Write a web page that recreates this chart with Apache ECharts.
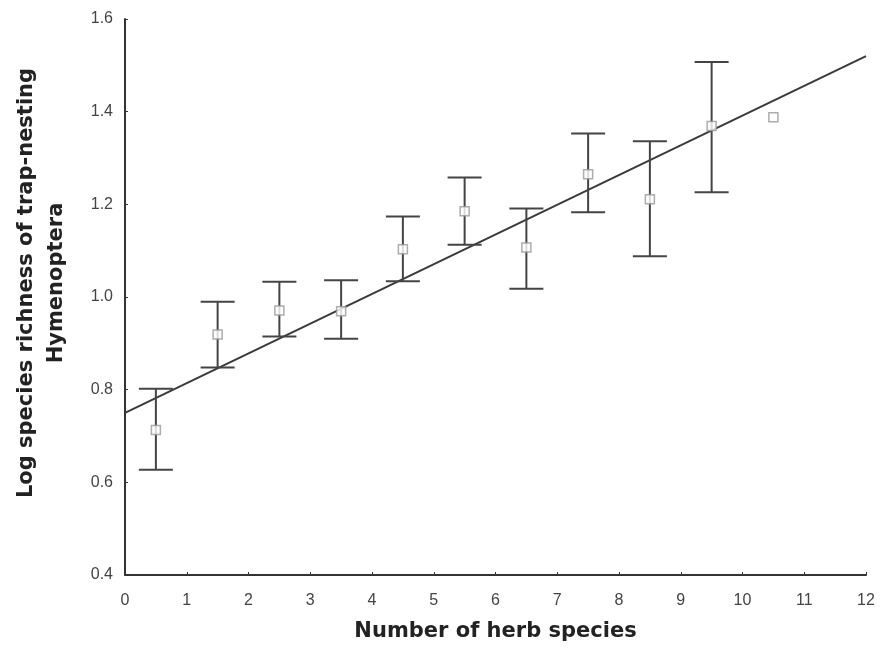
<!DOCTYPE html>
<html>
<head>
<meta charset="utf-8">
<script src="https://cdn.jsdelivr.net/npm/echarts@6/dist/echarts.min.js"></script>
<style>
html,body{margin:0;padding:0;background:#fff;}
#chart1{width:882px;height:660px;}
</style>
</head>
<body>
<div id="chart1"></div>
<script>
// herb species classes (x) and mean log richness with error bars
var herbX=[0.5,1.5,2.5,3.5,4.5,5.5,6.5,7.5,8.5,9.5,10.5];
var meanY=[0.713,0.919,0.971,0.969,1.103,1.185,1.107,1.265,1.211,1.369,1.388];
var upperY=[0.802,0.990,1.033,1.036,1.174,1.258,1.191,1.353,1.336,1.507,null];
var lowerY=[0.627,0.848,0.915,0.910,1.034,1.113,1.018,1.183,1.088,1.226,null];
// fitted regression line, ends
var fitX=[0,12];
var fitY=[0.75,1.52];
var xTicks=[0,1,2,3,4,5,6,7,8,9,10,11,12];
var yTicks=[0.4,0.6,0.8,1.0,1.2,1.4,1.6];

var points=herbX.map(function (x,i) {return [x,meanY[i]]});
var bars=herbX.map(function (x,i) {return [x,lowerY[i],upperY[i]]});
var fit=fitX.map(function (x,i) {return [x,fitY[i]]});

var chart=echarts.init(document.getElementById("chart1"));
var option={
    animation:false,
    backgroundColor:"#fff",
    grid:{left:125,right:16,top:19,bottom:85,containLabel:false,outerBoundsMode:"none"},
    xAxis:{
        type:"value",
        min:xTicks[0],
        max:xTicks[xTicks.length-1],
        interval:1,
        name:"Number of herb species",
        nameLocation:"middle",
        nameGap:46,
        nameTextStyle:{fontFamily:"DejaVu Sans",fontSize:21,fontWeight:"bold",color:"#222"},
        axisLine:{lineStyle:{color:"#333",width:2}},
        axisTick:{inside:true,length:3,lineStyle:{color:"#333"}},
        axisLabel:{fontFamily:"Liberation Sans",fontSize:16,color:"#444",margin:18},
        splitLine:{show:false}
    },
    yAxis:{
        type:"value",
        min:yTicks[0],
        max:yTicks[yTicks.length-1],
        interval:0.2,
        name:"Log species richness of trap-nesting\nHymenoptera",
        nameLocation:"middle",
        nameGap:53,
        nameRotate:90,
        nameTextStyle:{fontFamily:"DejaVu Sans",fontSize:21,fontWeight:"bold",color:"#222",lineHeight:30,align:"center",
            padding:[0,0,0,28]},
        axisLine:{lineStyle:{color:"#333",width:2}},
        axisTick:{inside:true,length:3,lineStyle:{color:"#333"}},
        axisLabel:{fontFamily:"Liberation Sans",fontSize:16,color:"#444",margin:12,
            formatter:function (v) {return v.toFixed(1)}},
        splitLine:{show:false}
    },
    series:[
        {name:"fit",
            type:"line",
            data:fit,
            symbol:"none",
            lineStyle:{color:"#3a3a3a",width:2},
            z:2
        },
        {name:"error",
            type:"custom",
            data:bars,
            renderItem:function (params,api) {
                var lo=api.value(1),hi=api.value(2);
                if(lo==null||hi==null||isNaN(lo)||isNaN(hi)){return null;}
                var x=api.value(0);
                var p1=api.coord([x,hi]);
                var p2=api.coord([x,lo]);
                var w=17;
                var st={stroke:"#444",lineWidth:2};
                return {type:"group",children:[
                    {type:"line",shape:{x1:p1[0],y1:p1[1],x2:p2[0],y2:p2[1]},style:st},
                    {type:"line",shape:{x1:p1[0]-w,y1:p1[1],x2:p1[0]+w,y2:p1[1]},style:st},
                    {type:"line",shape:{x1:p2[0]-w,y1:p2[1],x2:p2[0]+w,y2:p2[1]},style:st}
                ]};
            },
            z:3
        },
        {name:"mean",
            type:"scatter",
            data:points,
            symbol:"rect",
            symbolSize:9,
            itemStyle:{color:"#fff",borderColor:"#999",borderWidth:1.5},
            z:4
        }
    ]
};
chart.setOption(option);
</script>
</body>
</html>
